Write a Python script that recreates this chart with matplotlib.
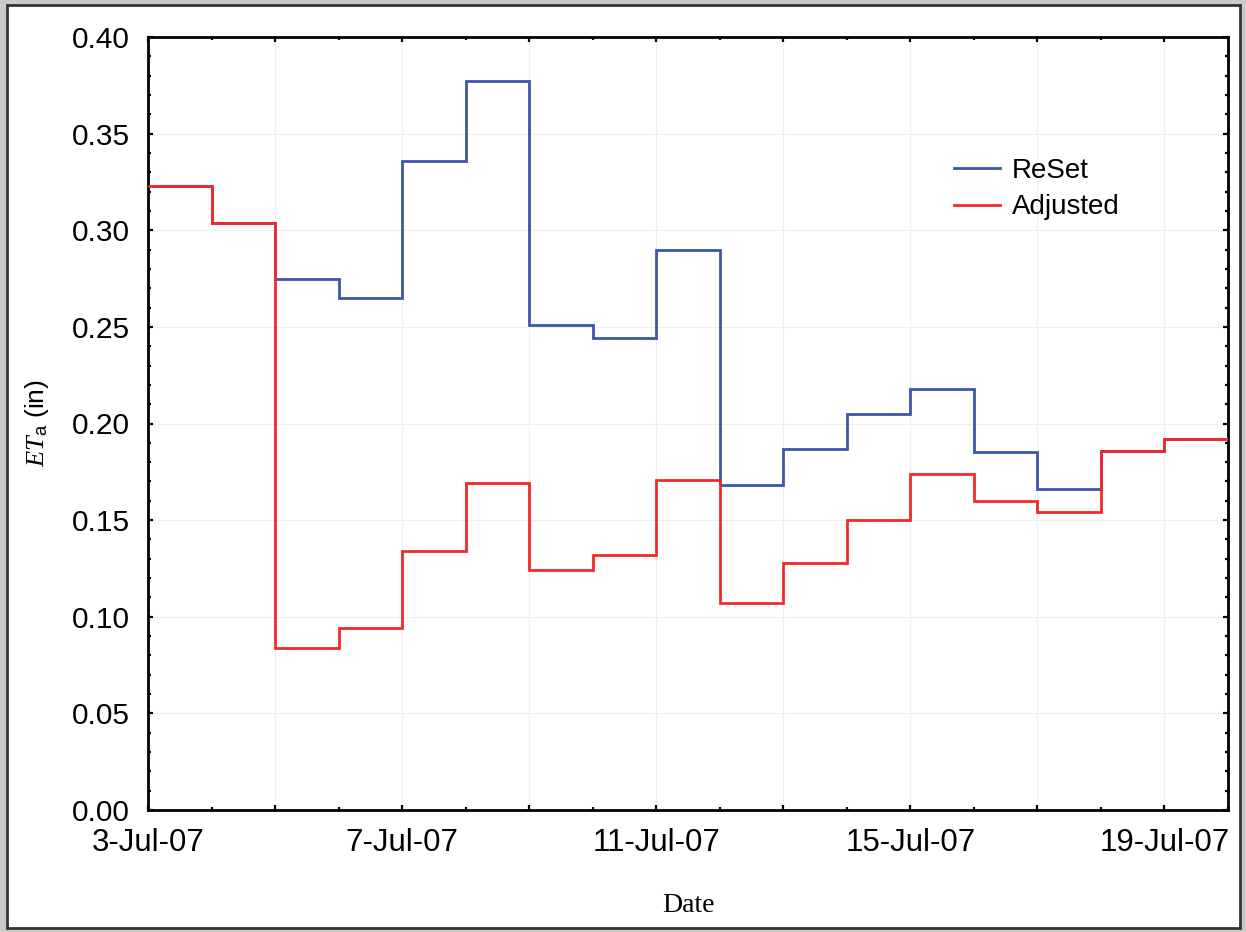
import datetime as dt
import matplotlib
matplotlib.use("Agg")
import matplotlib.pyplot as plt
import matplotlib.dates as mdates
from matplotlib.patches import Rectangle
from matplotlib.ticker import MultipleLocator, FuncFormatter

# daily values, 3-Jul-07 .. 19-Jul-07 (each step lasts one day)
days = [dt.date(2007, 7, d) for d in range(3, 20)]
reset = [0.323, 0.304, 0.275, 0.265, 0.336, 0.377, 0.251, 0.244, 0.290,
         0.168, 0.187, 0.205, 0.218, 0.185, 0.166, 0.186, 0.192]
adjusted = [0.323, 0.304, 0.084, 0.094, 0.134, 0.169, 0.124, 0.132, 0.171,
            0.107, 0.128, 0.150, 0.174, 0.160, 0.154, 0.186, 0.192]
labelled_days = [3, 7, 11, 15, 19]

plt.rcParams['font.family'] = ['Liberation Sans', 'DejaVu Sans']
plt.rcParams['mathtext.fontset'] = 'custom'
plt.rcParams['mathtext.it'] = 'Liberation Serif:italic'
plt.rcParams['mathtext.rm'] = 'Liberation Sans'

fig = plt.figure(figsize=(12.46, 9.32), dpi=100)
fig.patch.set_facecolor('#c9c9c5')
fig.patches.append(Rectangle((7 / 1246, 4 / 932), 1233 / 1246, 923 / 932,
                             transform=fig.transFigure, facecolor='white',
                             edgecolor='#333333', linewidth=2, zorder=-5))

ax = fig.add_axes([148 / 1246, 1 - 810 / 932, 1080 / 1246, 773 / 932])
ax.set_zorder(2)

edges = mdates.date2num(days + [days[-1] + dt.timedelta(days=1)])
ax.stairs(reset, edges, baseline=None, color='#3b55b0', linewidth=2.0,
          label='ReSet', zorder=3)
ax.stairs(adjusted, edges, baseline=None, color='#f02a2a', linewidth=2.0,
          label='Adjusted', zorder=4)

ax.set_xlim(edges[0], edges[-1])
ax.set_ylim(0, 0.40)

ax.xaxis.set_major_locator(mdates.DayLocator(bymonthday=range(1, 32, 2)))
ax.xaxis.set_minor_locator(mdates.DayLocator())


def date_label(x, pos):
    d = mdates.num2date(x)
    if d.day in labelled_days:
        return f"{d.day}-{d.strftime('%b')}-{d.strftime('%y')}"
    return ""


ax.xaxis.set_major_formatter(FuncFormatter(date_label))
ax.yaxis.set_major_locator(MultipleLocator(0.05))
ax.yaxis.set_minor_locator(MultipleLocator(0.01))
ax.yaxis.set_major_formatter(FuncFormatter(lambda v, p: f"{v:.2f}"))

ax.tick_params(which='both', direction='in', top=True, right=True, width=1.6)
ax.tick_params(which='major', length=3.8)
ax.tick_params(which='minor', length=2.4)
ax.tick_params(axis='x', which='major', pad=13, labelsize=22.5)
ax.tick_params(axis='y', which='major', pad=13, labelsize=21.5)
for s in ax.spines.values():
    s.set_linewidth(2)

ax.grid(True, which='major', color='#efefef', linewidth=0.8, zorder=0)

ax.set_xlabel('Date', family=['Liberation Serif', 'DejaVu Serif'],
              fontsize=20, labelpad=25)
ax.set_ylabel(r'$ET_{\mathrm{a}}$ (in)', family=['Liberation Sans', 'DejaVu Sans'],
              fontsize=19, labelpad=15)

leg = ax.legend(loc='upper left', bbox_to_anchor=(0.723, 0.876), frameon=False,
                fontsize=20, handlelength=1.65, handletextpad=0.45,
                labelspacing=0.38)

fig.savefig('out.png', dpi=100, facecolor=fig.get_facecolor())
